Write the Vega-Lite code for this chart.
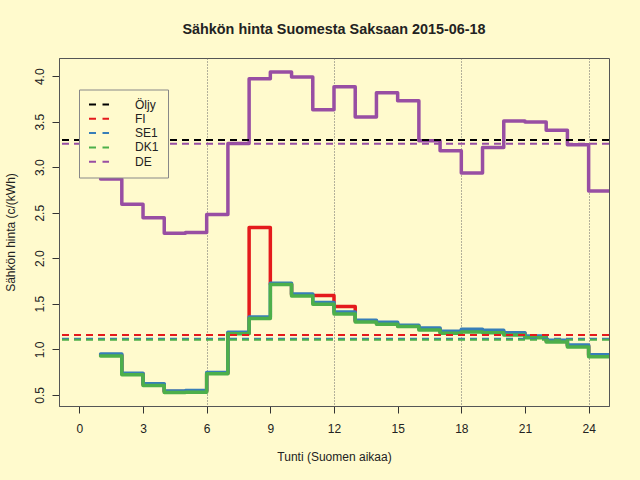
{
  "$schema": "https://vega.github.io/schema/vega-lite/v6.json",
  "background": "#FFFACD",
  "width": 550,
  "height": 348,
  "autosize": "none",
  "padding": {"left": 59, "top": 58, "right": 31, "bottom": 74},
  "title": {
    "text": "Sähkön hinta Suomesta Saksaan 2015-06-18",
    "font": "Liberation Sans",
    "fontSize": 14.4,
    "fontWeight": "bold",
    "color": "#222",
    "anchor": "middle",
    "frame": "group",
    "baseline": "alphabetic",
    "offset": 10
  },
  "datasets": {
    "prices": [
      {"hour": 1, "series": "FI", "price": 0.937},
      {"hour": 2, "series": "FI", "price": 0.73},
      {"hour": 3, "series": "FI", "price": 0.612},
      {"hour": 4, "series": "FI", "price": 0.535},
      {"hour": 5, "series": "FI", "price": 0.538},
      {"hour": 6, "series": "FI", "price": 0.738},
      {"hour": 7, "series": "FI", "price": 1.18},
      {"hour": 8, "series": "FI", "price": 2.339},
      {"hour": 9, "series": "FI", "price": 1.718},
      {"hour": 10, "series": "FI", "price": 1.6},
      {"hour": 11, "series": "FI", "price": 1.59},
      {"hour": 12, "series": "FI", "price": 1.469},
      {"hour": 13, "series": "FI", "price": 1.31},
      {"hour": 14, "series": "FI", "price": 1.287},
      {"hour": 15, "series": "FI", "price": 1.255},
      {"hour": 16, "series": "FI", "price": 1.224},
      {"hour": 17, "series": "FI", "price": 1.188},
      {"hour": 18, "series": "FI", "price": 1.21},
      {"hour": 19, "series": "FI", "price": 1.199},
      {"hour": 20, "series": "FI", "price": 1.175},
      {"hour": 21, "series": "FI", "price": 1.138},
      {"hour": 22, "series": "FI", "price": 1.09},
      {"hour": 23, "series": "FI", "price": 1.038},
      {"hour": 24, "series": "FI", "price": 0.932},
      {"hour": 25, "series": "FI", "price": 0.932},
      {"hour": 1, "series": "SE1", "price": 0.947},
      {"hour": 2, "series": "SE1", "price": 0.738},
      {"hour": 3, "series": "SE1", "price": 0.621},
      {"hour": 4, "series": "SE1", "price": 0.543},
      {"hour": 5, "series": "SE1", "price": 0.547},
      {"hour": 6, "series": "SE1", "price": 0.746},
      {"hour": 7, "series": "SE1", "price": 1.186},
      {"hour": 8, "series": "SE1", "price": 1.355},
      {"hour": 9, "series": "SE1", "price": 1.726},
      {"hour": 10, "series": "SE1", "price": 1.608},
      {"hour": 11, "series": "SE1", "price": 1.513},
      {"hour": 12, "series": "SE1", "price": 1.41},
      {"hour": 13, "series": "SE1", "price": 1.318},
      {"hour": 14, "series": "SE1", "price": 1.296},
      {"hour": 15, "series": "SE1", "price": 1.263},
      {"hour": 16, "series": "SE1", "price": 1.233},
      {"hour": 17, "series": "SE1", "price": 1.197},
      {"hour": 18, "series": "SE1", "price": 1.219},
      {"hour": 19, "series": "SE1", "price": 1.208},
      {"hour": 20, "series": "SE1", "price": 1.183},
      {"hour": 21, "series": "SE1", "price": 1.146},
      {"hour": 22, "series": "SE1", "price": 1.098},
      {"hour": 23, "series": "SE1", "price": 1.046},
      {"hour": 24, "series": "SE1", "price": 0.94},
      {"hour": 25, "series": "SE1", "price": 0.94},
      {"hour": 1, "series": "DK1", "price": 0.925},
      {"hour": 2, "series": "DK1", "price": 0.72},
      {"hour": 3, "series": "DK1", "price": 0.602},
      {"hour": 4, "series": "DK1", "price": 0.525},
      {"hour": 5, "series": "DK1", "price": 0.529},
      {"hour": 6, "series": "DK1", "price": 0.731},
      {"hour": 7, "series": "DK1", "price": 1.172},
      {"hour": 8, "series": "DK1", "price": 1.337},
      {"hour": 9, "series": "DK1", "price": 1.711},
      {"hour": 10, "series": "DK1", "price": 1.586},
      {"hour": 11, "series": "DK1", "price": 1.494},
      {"hour": 12, "series": "DK1", "price": 1.388},
      {"hour": 13, "series": "DK1", "price": 1.3},
      {"hour": 14, "series": "DK1", "price": 1.274},
      {"hour": 15, "series": "DK1", "price": 1.249},
      {"hour": 16, "series": "DK1", "price": 1.212},
      {"hour": 17, "series": "DK1", "price": 1.175},
      {"hour": 18, "series": "DK1", "price": 1.189},
      {"hour": 19, "series": "DK1", "price": 1.183},
      {"hour": 20, "series": "DK1", "price": 1.157},
      {"hour": 21, "series": "DK1", "price": 1.128},
      {"hour": 22, "series": "DK1", "price": 1.08},
      {"hour": 23, "series": "DK1", "price": 1.024},
      {"hour": 24, "series": "DK1", "price": 0.918},
      {"hour": 25, "series": "DK1", "price": 0.918},
      {"hour": 1, "series": "DE", "price": 2.871},
      {"hour": 2, "series": "DE", "price": 2.593},
      {"hour": 3, "series": "DE", "price": 2.445},
      {"hour": 4, "series": "DE", "price": 2.276},
      {"hour": 5, "series": "DE", "price": 2.284},
      {"hour": 6, "series": "DE", "price": 2.482},
      {"hour": 7, "series": "DE", "price": 3.26},
      {"hour": 8, "series": "DE", "price": 3.972},
      {"hour": 9, "series": "DE", "price": 4.046},
      {"hour": 10, "series": "DE", "price": 3.991},
      {"hour": 11, "series": "DE", "price": 3.631},
      {"hour": 12, "series": "DE", "price": 3.884},
      {"hour": 13, "series": "DE", "price": 3.551},
      {"hour": 14, "series": "DE", "price": 3.818},
      {"hour": 15, "series": "DE", "price": 3.73},
      {"hour": 16, "series": "DE", "price": 3.29},
      {"hour": 17, "series": "DE", "price": 3.18},
      {"hour": 18, "series": "DE", "price": 2.937},
      {"hour": 19, "series": "DE", "price": 3.216},
      {"hour": 20, "series": "DE", "price": 3.507},
      {"hour": 21, "series": "DE", "price": 3.496},
      {"hour": 22, "series": "DE", "price": 3.407},
      {"hour": 23, "series": "DE", "price": 3.246},
      {"hour": 24, "series": "DE", "price": 2.739},
      {"hour": 25, "series": "DE", "price": 2.739}
    ],
    "averages": [
      {"series": "Öljy", "price": 3.3},
      {"series": "FI", "price": 1.156},
      {"series": "SE1", "price": 1.116},
      {"series": "DK1", "price": 1.106},
      {"series": "DE", "price": 3.257}
    ]
  },
  "layer": [
    {
      "data": {"name": "prices"},
      "mark": {"type": "line", "interpolate": "step-after", "strokeWidth": 3.5, "clip": true, "strokeCap": "round", "strokeJoin": "round"},
      "encoding": {
        "x": {
          "field": "hour",
          "type": "quantitative",
          "scale": {"domain": [-0.96, 24.96], "nice": false, "zero": false},
          "axis": {
            "values": [0, 3, 6, 9, 12, 15, 18, 21, 24],
            "title": "Tunti (Suomen aikaa)",
            "titleY": 54,
            "titleBaseline": "alphabetic",
            "labelPadding": 10,
            "grid": true,
            "gridColor": "#666",
            "gridDash": [1, 2],
            "gridOpacity": {"condition": {"test": "datum.value >= 6 && datum.value % 6 === 0", "value": 1}, "value": 0}
          }
        },
        "y": {
          "field": "price",
          "type": "quantitative",
          "scale": {"domain": [0.377, 4.2], "nice": false, "zero": false},
          "axis": {
            "values": [0.5, 1, 1.5, 2, 2.5, 3, 3.5, 4],
            "format": ".1f",
            "title": "Sähkön hinta (c/(kWh)",
            "titleX": -44.5,
            "titleAngle": 270,
            "titleBaseline": "alphabetic",
            "titleAlign": "center",
            "labelAngle": 270,
            "labelAlign": "center",
            "labelBaseline": "alphabetic",
            "labelPadding": 9,
            "grid": false
          }
        },
        "color": {
          "field": "series",
          "type": "nominal",
          "scale": {
            "domain": ["Öljy", "FI", "SE1", "DK1", "DE"],
            "range": ["#000000", "#E41A1C", "#377EB8", "#4DAF4A", "#984EA3"]
          },
          "legend": {
            "title": null,
            "orient": "none",
            "legendX": 20,
            "legendY": 31.5,
            "symbolType": "M-2,0H2",
            "symbolSize": 100,
            "symbolStrokeWidth": 2,
            "symbolDash": [7, 6.5],
            "symbolOffset": 5,
            "labelOffset": 30,
            "rowPadding": 2.3,
            "padding": 9,
            "fillColor": "#FFFACD",
            "strokeColor": "#888",
            "labelFont": "Liberation Sans",
            "labelFontSize": 12,
            "labelColor": "#222"
          }
        }
      }
    },
    {
      "data": {"name": "averages"},
      "mark": {"type": "rule", "strokeWidth": 2, "strokeDash": [7, 5]},
      "encoding": {
        "y": {"field": "price", "type": "quantitative"},
        "color": {"field": "series", "type": "nominal"}
      }
    }
  ],
  "config": {
    "view": {"stroke": "#555", "strokeWidth": 1},
    "axis": {
      "labelFont": "Liberation Sans",
      "labelFontSize": 12,
      "labelColor": "#222",
      "labelFlush": false,
      "labelOverlap": false,
      "titleFont": "Liberation Sans",
      "titleFontSize": 12,
      "titleFontWeight": "normal",
      "titleColor": "#222",
      "tickSize": 7,
      "tickColor": "#333",
      "domainColor": "#555"
    }
  }
}
